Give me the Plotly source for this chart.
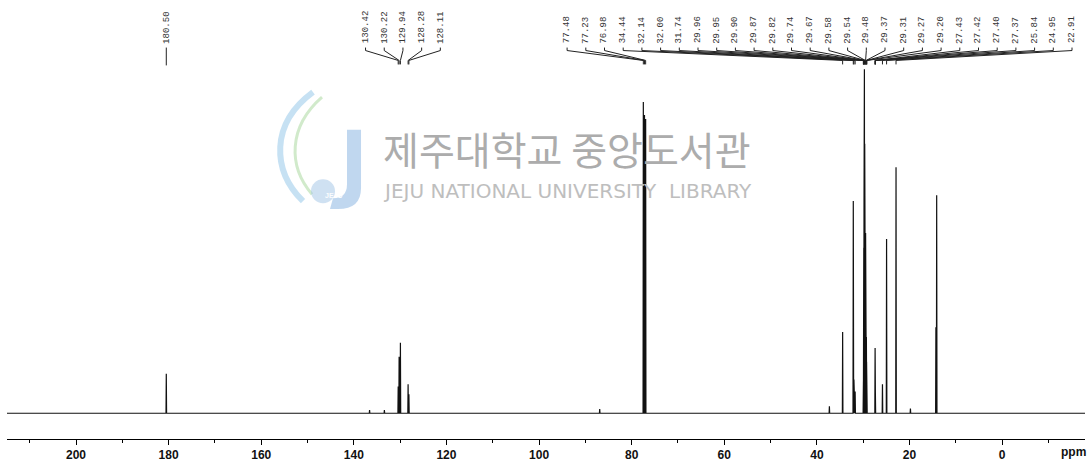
import plotly.graph_objects as go

# Labelled 13C shifts (ppm) and relative intensities (tallest line = 100)
labeled_ppm = [180.50,
               130.42, 130.22, 129.94, 128.28, 128.11,
               77.48, 77.23, 76.98, 34.44, 32.14, 32.00, 31.74,
               29.96, 29.95, 29.90, 29.87, 29.82, 29.74, 29.67, 29.58, 29.54, 29.48,
               29.37, 29.31, 29.27, 29.20, 27.43, 27.42, 27.40, 27.37,
               25.84, 24.95, 22.91]
labeled_int = [11.5,
               7.8, 16.4, 20.5, 8.4, 5.5,
               90.5, 86.7, 85.6, 23.6, 61.7, 9.8, 6.3,
               6.3, 9.2, 33.7, 48.1, 62.0, 100.0, 78.4, 68.3, 62.5, 52.4,
               25.1, 22.2, 15.0, 6.3, 19.0, 15.9, 10.7, 6.0,
               8.4, 50.7, 71.5]
label_groups = [1, 5, 28]

# Unlabelled lines (methyl signal and small impurities)
other_ppm = [136.6, 133.4, 86.9, 37.3, 19.8, 14.30, 14.13]
other_int = [0.9, 0.9, 1.2, 2.0, 1.4, 25.0, 63.4]

tick_vals = [200, 180, 160, 140, 120, 100, 80, 60, 40, 20, 0]

# ---- page geometry -------------------------------------------------------
W, H = 1088, 462
ML, MR, MT, MB = 7, 3, 0, 19
PW, PH = W - ML - MR, H - MT - MB
X_RANGE = [214.9, -17.9]
BASE_PX, TOP_PX = 417, 70          # baseline and tallest line, page pixels
unit = (BASE_PX - TOP_PX) / 100.0
Y_RANGE = [-(MT + PH - BASE_PX) / unit, (BASE_PX - MT) / unit]


def ppm_px(p):
    return ML + (X_RANGE[0] - p) / (X_RANGE[0] - X_RANGE[1]) * PW


def fx(px):
    return (px - ML) / PW


def fy(py):
    return 1 - (py - MT) / PH


# ---- spectrum trace --------------------------------------------------------
peaks = sorted(zip(labeled_ppm + other_ppm, labeled_int + other_int),
               key=lambda t: -t[0])
hw = 0.06
xs, ys = [X_RANGE[0]], [0.0]
for p, h in peaks:
    xs += [p + hw, p, p - hw]
    ys += [0.0, h, 0.0]
xs.append(X_RANGE[1])
ys.append(0.0)

fig = go.Figure()
fig.add_trace(go.Scatter(x=xs, y=ys, mode="lines",
                         line=dict(color="#111111", width=1.2),
                         hoverinfo="skip", showlegend=False))

shapes = []
annotations = []


# ---- watermark -------------------------------------------------------------
def svg_path(cmds, close=True):
    out = []
    for cmd, pts in cmds:
        coords = " ".join(f"{fx(x):.5f},{fy(y):.5f}" for x, y in pts)
        out.append(f"{cmd} {coords}")
    return " ".join(out) + (" Z" if close else "")


# J-shaped bar
shapes.append(dict(type="path", xref="paper", yref="paper", layer="below",
                   path=svg_path([("M", [(347, 131)]), ("L", [(361, 131)]),
                                  ("L", [(361, 190)]),
                                  ("Q", [(361, 211), (338, 211)]),
                                  ("L", [(330, 211)]), ("L", [(333, 200)]),
                                  ("Q", [(347, 200), (347, 186)])]),
                   fillcolor="rgba(150,188,228,0.6)", line=dict(width=0)))
# swooshes
shapes.append(dict(type="path", xref="paper", yref="paper", layer="below",
                   path=svg_path([("M", [(313, 93)]),
                                  ("C", [(270, 125), (272, 172), (303, 203)])],
                                 close=False),
                   line=dict(color="rgba(160,205,235,0.6)", width=6)))
shapes.append(dict(type="path", xref="paper", yref="paper", layer="below",
                   path=svg_path([("M", [(322, 98)]),
                                  ("C", [(288, 128), (288, 168), (312, 196)])],
                                 close=False),
                   line=dict(color="rgba(185,222,175,0.65)", width=3)))
# round emblem
shapes.append(dict(type="circle", xref="paper", yref="paper", layer="below",
                   x0=fx(311), x1=fx(335), y0=fy(205), y1=fy(181),
                   fillcolor="rgba(160,195,230,0.5)", line=dict(width=0)))
annotations.append(dict(text="<b>JEJU</b>", xref="paper", yref="paper",
                        x=fx(323), y=fy(197), showarrow=False,
                        font=dict(family="Liberation Sans", size=7,
                                  color="rgba(255,255,255,0.95)")))
annotations.append(dict(text="제주대학교 중앙도서관", xref="paper", yref="paper",
                        x=fx(567), y=fy(149), showarrow=False,
                        xanchor="center", yanchor="middle",
                        font=dict(family="Noto Sans CJK KR", size=39,
                                  color="rgb(172,172,172)")))
annotations.append(dict(text="JEJU NATIONAL UNIVERSITY  LIBRARY",
                        xref="paper", yref="paper",
                        x=fx(567), y=fy(193), showarrow=False,
                        xanchor="center", yanchor="middle",
                        font=dict(family="DejaVu Sans", size=20,
                                  color="rgb(190,190,190)")))

# ---- peak labels with leader lines ---------------------------------------
LABEL_BOTTOM = 46
SPACING = 18.7
group_right_px = [None, None, 1072]
idx = 0
for g, n in enumerate(label_groups):
    group = labeled_ppm[idx:idx + n]
    idx += n
    peak_px = [ppm_px(p) for p in group]
    if n == 1:
        label_px = peak_px
    elif group_right_px[g] is not None:
        label_px = [group_right_px[g] - SPACING * (n - 1 - i) for i in range(n)]
    else:
        centre = sum(peak_px) / n
        label_px = [centre + SPACING * (i - (n - 1) / 2) for i in range(n)]
    for p, lx, px in zip(group, label_px, peak_px):
        annotations.append(dict(
            text=f"{p:.2f}", xref="paper", yref="paper",
            x=fx(lx), y=fy(LABEL_BOTTOM), xanchor="center", yanchor="bottom",
            textangle=-90, showarrow=False,
            font=dict(family="Liberation Mono", size=9, color="#333333")))
        if n == 1:
            segs = [((lx, 48), (px, 66))]
        else:
            segs = [((lx, 48), (lx, 51)), ((lx, 51), (px, 61)),
                    ((px, 61), (px, 65))]
        for (x0, y0), (x1, y1) in segs:
            shapes.append(dict(type="line", xref="paper", yref="paper",
                               x0=fx(x0), y0=fy(y0), x1=fx(x1), y1=fy(y1),
                               line=dict(color="#222222", width=1)))

annotations.append(dict(text="ppm", xref="paper", yref="paper",
                        x=fx(1073), y=fy(456), showarrow=False,
                        xanchor="center", yanchor="middle",
                        font=dict(family="Liberation Sans", size=12,
                                  color="#111111", weight="bold")))

fig.update_layout(
    width=W, height=H,
    margin=dict(l=ML, r=MR, t=MT, b=MB, pad=0),
    paper_bgcolor="white", plot_bgcolor="white",
    shapes=shapes, annotations=annotations,
    xaxis=dict(range=X_RANGE, tickmode="array", tickvals=tick_vals,
               ticks="outside", ticklen=5, tickwidth=1, tickcolor="black",
               showline=True, linecolor="black", linewidth=1,
               showgrid=False, zeroline=False,
               tickfont=dict(family="Liberation Sans", size=12,
                             color="#111111", weight="bold"),
               minor=dict(tickmode="linear", tick0=0, dtick=10, ticks="outside",
                          ticklen=3, tickcolor="black", showgrid=False)),
    yaxis=dict(range=Y_RANGE, visible=False, showgrid=False, zeroline=False),
)

fig.write_html("out.html")
